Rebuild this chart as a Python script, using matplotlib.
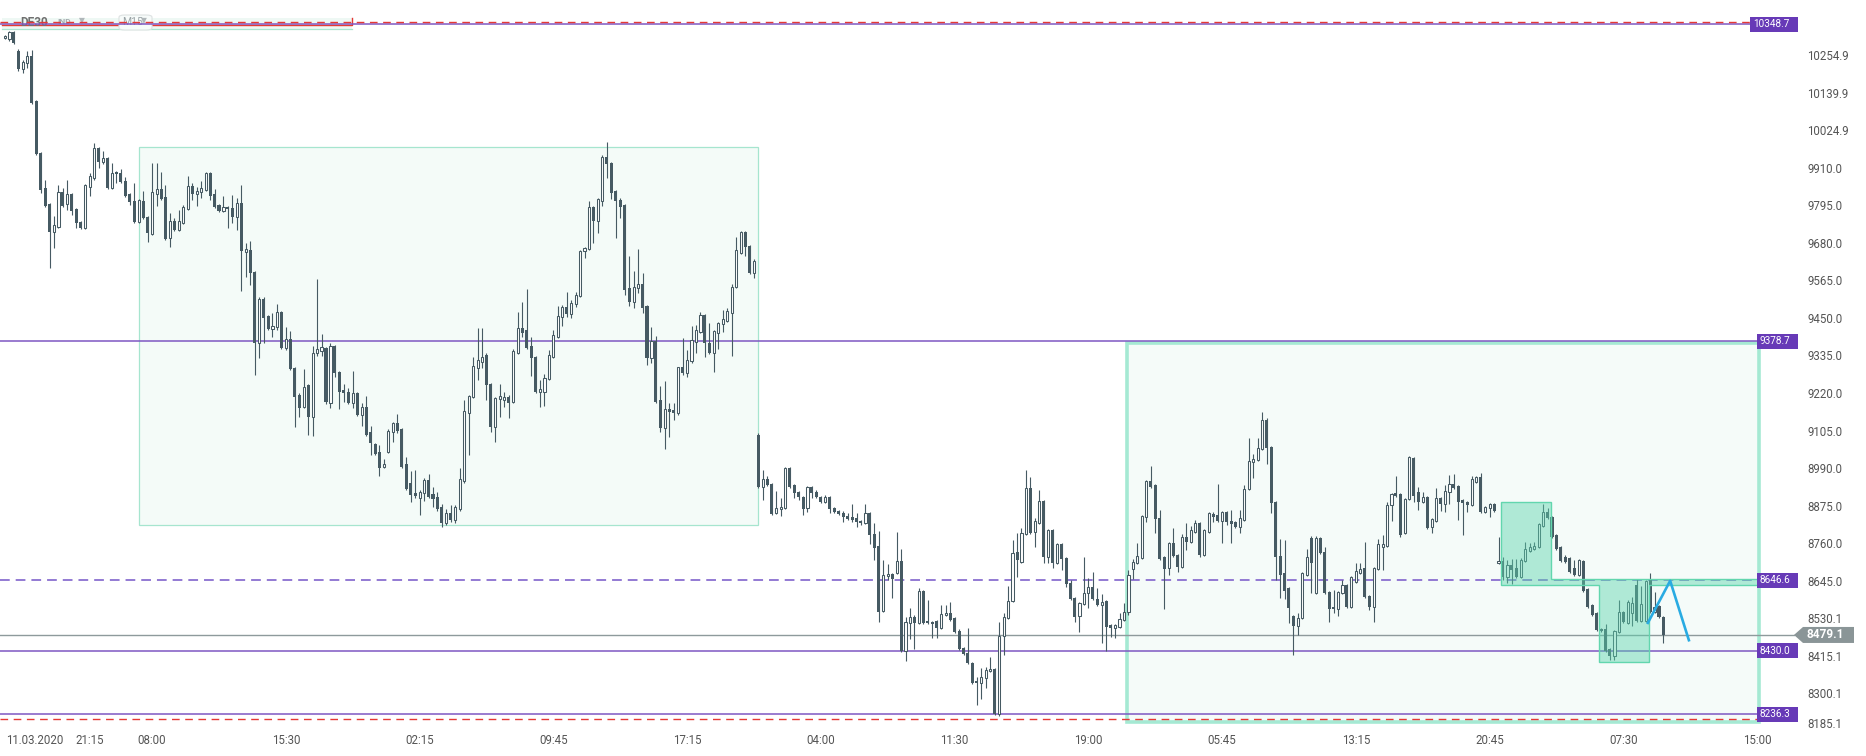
import matplotlib
matplotlib.use('Agg')
import matplotlib.pyplot as plt
import matplotlib.transforms as mtransforms
from matplotlib.patches import Rectangle, Polygon, FancyBboxPatch
import numpy as np

plt.rcParams['font.family'] = ['Roboto', 'DejaVu Sans']
plt.rcParams['lines.scale_dashes'] = False

# DE30 M15 candles
opens = [
    10307, 10304, 10325, 10267, 10212, 10230, 10252, 10114, 9955, 9848,
    9799, 9713, 9728, 9835, 9799, 9829, 9783, 9744, 9725, 9851,
    9878, 9970, 9927, 9940, 9848, 9897, 9894, 9869, 9829, 9808,
    9744, 9808, 9759, 9707, 9829, 9845, 9820, 9695, 9747, 9719,
    9741, 9783, 9854, 9829, 9835, 9841, 9894, 9829, 9796, 9777,
    9790, 9786, 9759, 9802, 9652, 9658, 9590, 9373, 9508, 9456,
    9416, 9422, 9468, 9358, 9385, 9296, 9214, 9177, 9244, 9146,
    9342, 9349, 9358, 9189, 9364, 9284, 9229, 9223, 9189, 9220,
    9153, 9177, 9100, 9064, 9039, 8993, 9039, 9100, 9128, 9110,
    9002, 8944, 8914, 8898, 8914, 8954, 8911, 8901, 8871, 8822,
    8852, 8831, 8865, 8950, 9159, 9208, 9296, 9315, 9336, 9247,
    9116, 9202, 9198, 9208, 9192, 9342, 9419, 9413, 9364, 9330,
    9223, 9223, 9263, 9330, 9391, 9453, 9483, 9462, 9493, 9517,
    9655, 9661, 9790, 9747, 9808, 9943, 9924, 9838, 9811, 9796,
    9541, 9499, 9541, 9554, 9486, 9327, 9379, 9198, 9113, 9171,
    9168, 9159, 9299, 9281, 9318, 9376, 9407, 9459, 9373, 9342,
    9404, 9431, 9440, 9465, 9545, 9649, 9713, 9670, 9587, 9091,
    8932, 8957, 8941, 8852, 8865, 8868, 8990, 8938, 8917, 8901,
    8868, 8932, 8917, 8901, 8886, 8901, 8868, 8859, 8852, 8843,
    8840, 8837, 8828, 8822, 8852, 8788, 8751, 8552, 8660, 8666,
    8669, 8706, 8430, 8516, 8534, 8516, 8614, 8522, 8519, 8522,
    8500, 8540, 8546, 8531, 8491, 8439, 8424, 8393, 8338, 8332,
    8347, 8369, 8375, 8237, 8476, 8531, 8583, 8733, 8702, 8788,
    8929, 8794, 8822, 8889, 8718, 8800, 8699, 8758, 8715, 8638,
    8592, 8537, 8574, 8608, 8626, 8589, 8571, 8583, 8509, 8500,
    8503, 8525, 8549, 8681, 8699, 8715, 8840, 8950, 8938, 8837,
    8718, 8684, 8761, 8724, 8687, 8779, 8764, 8794, 8822, 8724,
    8794, 8849, 8846, 8828, 8856, 8828, 8825, 8810, 8831, 8926,
    9009, 9015, 9048, 9137, 9055, 8886, 8721, 8669, 8623, 8537,
    8506, 8531, 8663, 8776, 8608, 8776, 8733, 8611, 8565, 8559,
    8608, 8632, 8565, 8641, 8669, 8684, 8598, 8565, 8681, 8748,
    8751, 8877, 8914, 8911, 8791, 8895, 9021, 8917, 8886, 8901,
    8810, 8828, 8898, 8880, 8917, 8941, 8935, 8892, 8886, 8877,
    8947, 8963, 8856, 8868, 8880, 8699, 8706, 8657, 8693, 8684,
    8657, 8706, 8736, 8742, 8748, 8813, 8856, 8840, 8785, 8748,
    8718, 8715, 8684, 8663, 8706, 8620, 8571, 8546, 8497, 8497,
    8436, 8415, 8488, 8549, 8516, 8546, 8632, 8522, 8522, 8647,
    8549, 8568, 8534]
highs = [
    10316, 10328, 10328, 10273, 10240, 10267, 10270, 10117, 9958, 9872,
    9802, 9762, 9857, 9848, 9872, 9832, 9786, 9747, 9860, 9894,
    9985, 9973, 9961, 9943, 9924, 9900, 9906, 9881, 9832, 9863,
    9814, 9838, 9762, 9924, 9924, 9897, 9857, 9771, 9756, 9780,
    9796, 9884, 9863, 9851, 9869, 9897, 9897, 9845, 9799, 9823,
    9793, 9826, 9817, 9857, 9679, 9685, 9593, 9514, 9514, 9459,
    9465, 9493, 9471, 9422, 9410, 9299, 9220, 9293, 9247, 9364,
    9569, 9401, 9361, 9373, 9367, 9287, 9247, 9235, 9287, 9223,
    9189, 9211, 9119, 9067, 9061, 9018, 9110, 9131, 9156, 9113,
    9024, 8981, 8984, 8923, 8960, 8972, 8932, 8917, 8880, 8865,
    8877, 8877, 8990, 9198, 9214, 9330, 9419, 9419, 9342, 9251,
    9208, 9247, 9223, 9214, 9355, 9468, 9499, 9538, 9391, 9333,
    9260, 9278, 9352, 9413, 9486, 9489, 9529, 9505, 9529, 9658,
    9667, 9808, 9793, 9817, 9949, 9988, 9927, 9841, 9817, 9799,
    9639, 9593, 9661, 9587, 9489, 9422, 9395, 9241, 9257, 9189,
    9189, 9299, 9388, 9352, 9425, 9428, 9468, 9462, 9434, 9413,
    9437, 9474, 9480, 9554, 9698, 9716, 9716, 9673, 9630, 9097,
    8984, 8966, 8944, 8920, 8898, 8993, 8993, 8941, 8920, 8905,
    8935, 8935, 8923, 8905, 8908, 8905, 8871, 8862, 8859, 8852,
    8880, 8852, 8831, 8880, 8856, 8822, 8797, 8709, 8696, 8669,
    8794, 8742, 8534, 8562, 8540, 8623, 8617, 8586, 8522, 8525,
    8571, 8571, 8580, 8534, 8497, 8442, 8500, 8396, 8350, 8378,
    8381, 8412, 8378, 8519, 8546, 8629, 8770, 8791, 8807, 8984,
    8963, 8837, 8923, 8892, 8803, 8803, 8761, 8761, 8718, 8647,
    8595, 8580, 8718, 8653, 8672, 8623, 8604, 8586, 8513, 8513,
    8546, 8577, 8678, 8712, 8761, 8846, 8954, 8996, 8941, 8862,
    8721, 8764, 8807, 8727, 8788, 8822, 8813, 8831, 8825, 8803,
    8856, 8856, 8941, 8859, 8859, 8862, 8828, 8862, 8938, 9082,
    9033, 9082, 9162, 9143, 9058, 8889, 8773, 8770, 8626, 8540,
    8546, 8672, 8742, 8782, 8782, 8779, 8748, 8614, 8617, 8614,
    8647, 8635, 8660, 8699, 8699, 8764, 8601, 8687, 8773, 8785,
    8886, 8914, 8966, 8914, 8898, 9027, 9024, 8932, 8917, 8905,
    8837, 8929, 8901, 8938, 8969, 8972, 8938, 8895, 8889, 8966,
    8966, 8975, 8874, 8883, 8883, 8779, 8718, 8709, 8712, 8712,
    8715, 8764, 8761, 8764, 8822, 8880, 8868, 8843, 8788, 8751,
    8724, 8718, 8709, 8712, 8709, 8623, 8574, 8549, 8500, 8513,
    8439, 8494, 8586, 8552, 8586, 8595, 8650, 8629, 8647, 8669,
    8611, 8571, 8537]
lows = [
    10304, 10298, 10289, 10206, 10200, 10215, 10105, 9949, 9832, 9790,
    9603, 9664, 9725, 9790, 9780, 9765, 9725, 9722, 9722, 9823,
    9872, 9909, 9921, 9845, 9845, 9863, 9863, 9820, 9796, 9741,
    9741, 9753, 9682, 9704, 9793, 9811, 9688, 9667, 9716, 9716,
    9737, 9780, 9811, 9793, 9817, 9838, 9811, 9786, 9774, 9774,
    9725, 9741, 9719, 9532, 9575, 9551, 9275, 9327, 9373, 9413,
    9391, 9413, 9355, 9352, 9290, 9116, 9146, 9174, 9091, 9088,
    9333, 9333, 9186, 9174, 9269, 9171, 9192, 9186, 9174, 9149,
    9119, 9088, 9030, 9030, 8966, 8990, 9036, 9070, 9097, 8990,
    8923, 8886, 8898, 8846, 8889, 8898, 8871, 8859, 8810, 8816,
    8825, 8822, 8859, 8944, 9030, 9205, 9260, 9296, 9198, 9100,
    9070, 9146, 9177, 9143, 9189, 9339, 9391, 9355, 9272, 9220,
    9177, 9180, 9260, 9327, 9388, 9425, 9453, 9450, 9483, 9514,
    9633, 9658, 9679, 9710, 9793, 9878, 9814, 9695, 9756, 9520,
    9486, 9480, 9526, 9465, 9306, 9312, 9189, 9100, 9049, 9085,
    9137, 9153, 9275, 9269, 9312, 9342, 9404, 9330, 9339, 9284,
    9355, 9407, 9437, 9333, 9541, 9646, 9639, 9584, 9572, 8929,
    8892, 8935, 8846, 8849, 8843, 8865, 8929, 8898, 8892, 8846,
    8856, 8898, 8898, 8883, 8883, 8852, 8852, 8846, 8825, 8831,
    8825, 8810, 8816, 8819, 8758, 8709, 8519, 8549, 8647, 8592,
    8666, 8427, 8399, 8467, 8436, 8513, 8513, 8513, 8470, 8470,
    8497, 8537, 8522, 8485, 8433, 8418, 8390, 8329, 8265, 8283,
    8317, 8366, 8234, 8231, 8418, 8528, 8580, 8657, 8699, 8785,
    8788, 8748, 8819, 8699, 8699, 8684, 8696, 8678, 8626, 8586,
    8519, 8488, 8571, 8562, 8586, 8568, 8454, 8430, 8473, 8470,
    8500, 8522, 8540, 8650, 8696, 8712, 8825, 8929, 8791, 8709,
    8559, 8663, 8718, 8672, 8684, 8739, 8761, 8791, 8718, 8721,
    8791, 8825, 8825, 8761, 8816, 8761, 8807, 8791, 8828, 8923,
    8960, 9012, 9045, 9002, 8852, 8647, 8592, 8589, 8516, 8418,
    8479, 8528, 8660, 8608, 8604, 8727, 8604, 8519, 8546, 8537,
    8604, 8562, 8562, 8638, 8666, 8592, 8556, 8519, 8678, 8678,
    8748, 8828, 8901, 8779, 8788, 8892, 8886, 8862, 8883, 8803,
    8791, 8825, 8859, 8856, 8880, 8926, 8831, 8785, 8856, 8874,
    8944, 8852, 8852, 8840, 8856, 8696, 8647, 8638, 8635, 8653,
    8653, 8702, 8733, 8739, 8745, 8810, 8834, 8776, 8739, 8702,
    8699, 8669, 8660, 8660, 8611, 8562, 8537, 8491, 8488, 8427,
    8402, 8402, 8485, 8516, 8513, 8506, 8519, 8519, 8519, 8546,
    8546, 8531, 8454]
closes = [
    10313, 10325, 10292, 10212, 10234, 10252, 10108, 9952, 9841, 9793,
    9713, 9734, 9835, 9793, 9829, 9777, 9741, 9725, 9857, 9884,
    9970, 9927, 9940, 9848, 9894, 9891, 9866, 9823, 9805, 9744,
    9811, 9756, 9710, 9835, 9845, 9814, 9692, 9747, 9719, 9747,
    9790, 9854, 9829, 9838, 9848, 9894, 9823, 9790, 9777, 9790,
    9783, 9759, 9802, 9655, 9661, 9587, 9373, 9508, 9450, 9416,
    9425, 9468, 9358, 9385, 9293, 9208, 9174, 9238, 9146, 9342,
    9355, 9361, 9192, 9364, 9281, 9223, 9220, 9189, 9220, 9153,
    9177, 9091, 9067, 9033, 8990, 9002, 9104, 9128, 9104, 8993,
    8926, 8908, 8905, 8917, 8954, 8901, 8895, 8865, 8822, 8852,
    8831, 8871, 8957, 9165, 9211, 9302, 9321, 9330, 9244, 9116,
    9205, 9211, 9208, 9189, 9349, 9419, 9404, 9358, 9327, 9223,
    9232, 9266, 9336, 9398, 9456, 9483, 9462, 9496, 9520, 9655,
    9664, 9790, 9747, 9814, 9943, 9921, 9832, 9808, 9790, 9535,
    9499, 9545, 9554, 9480, 9327, 9379, 9192, 9113, 9171, 9162,
    9159, 9299, 9281, 9321, 9382, 9413, 9459, 9373, 9342, 9410,
    9434, 9446, 9471, 9545, 9658, 9713, 9667, 9587, 9624, 8932,
    8957, 8938, 8849, 8868, 8871, 8990, 8932, 8914, 8901, 8865,
    8932, 8914, 8901, 8886, 8901, 8865, 8856, 8849, 8840, 8834,
    8831, 8825, 8822, 8852, 8785, 8745, 8549, 8663, 8666, 8650,
    8706, 8430, 8519, 8534, 8516, 8614, 8516, 8516, 8513, 8500,
    8543, 8546, 8525, 8488, 8436, 8421, 8393, 8332, 8332, 8350,
    8372, 8375, 8237, 8476, 8534, 8583, 8730, 8709, 8791, 8929,
    8791, 8828, 8889, 8718, 8800, 8699, 8758, 8712, 8635, 8589,
    8534, 8577, 8608, 8626, 8589, 8571, 8580, 8503, 8500, 8509,
    8528, 8549, 8663, 8702, 8721, 8843, 8950, 8932, 8834, 8712,
    8681, 8761, 8721, 8687, 8779, 8764, 8800, 8822, 8724, 8800,
    8852, 8840, 8828, 8856, 8825, 8819, 8810, 8837, 8926, 9012,
    9018, 9052, 9137, 9052, 8883, 8718, 8663, 8614, 8562, 8506,
    8531, 8669, 8718, 8699, 8776, 8730, 8608, 8559, 8559, 8611,
    8632, 8565, 8657, 8675, 8681, 8595, 8565, 8684, 8758, 8758,
    8877, 8911, 8905, 8785, 8895, 9024, 8905, 8886, 8901, 8807,
    8834, 8898, 8880, 8920, 8941, 8929, 8886, 8883, 8877, 8957,
    8963, 8856, 8871, 8880, 8859, 8706, 8657, 8693, 8678, 8657,
    8709, 8742, 8748, 8751, 8819, 8856, 8837, 8779, 8742, 8706,
    8702, 8672, 8663, 8709, 8614, 8565, 8540, 8494, 8491, 8430,
    8415, 8491, 8549, 8519, 8580, 8577, 8522, 8574, 8644, 8549,
    8565, 8534, 8479.1]

tick_pos = [6.7, 19, 33, 63, 93, 123, 153, 183, 213, 243, 273, 303, 333, 363, 393]
tick_lbl = ['11.03.2020', '21:15', '08:00', '15:30', '02:15', '09:45', '17:15', '04:00',
            '11:30', '19:00', '05:45', '13:15', '20:45', '07:30', '15:00']
price_ticks = [10254.9, 10139.9, 10024.9, 9910.0, 9795.0, 9680.0, 9565.0, 9450.0, 9335.0,
               9220.0, 9105.0, 8990.0, 8875.0, 8760.0, 8645.0, 8530.1, 8415.1, 8300.1, 8185.1]

solid_levels = [10348.7, 9378.7, 8430.0, 8236.3]
dashed_level = 8646.6
red_levels = [10354.7, 8221.7]
last_price = 8479.1

# boxes drawn on the chart: x from, x to (candle index), price low, price high
range_box = [30.1, 169.0, 8816, 9972]
big_box = [251.6, 393.5, 8214, 9372]
zone1 = [335.6, 346.8, 8632, 8886]
zone2 = [357.6, 368.8, 8397, 8650]
band_right = 393.5

arrow_x = [368.5, 373.5, 377.7]
arrow_y = [8516, 8645, 8463]

W, H = 1866, 756
fig = plt.figure(figsize=(W / 100, H / 100), dpi=100)
fig.patch.set_facecolor('white')
ax = fig.add_axes([0, 23 / H, 1762 / W, 733 / H])
ax.patch.set_alpha(0)
ax.set_xlim(-1.12, 394.1)
ax.set_ylim(8178.9, 10423.3)
for s in ax.spines.values():
    s.set_visible(False)

cc = '#465a63'
o = np.array(opens, float)
h = np.array(highs, float)
l = np.array(lows, float)
c = np.array(closes, float)
x = np.arange(len(c))
up = c > o
bot = np.minimum(o, c)
hgt = np.maximum(np.abs(c - o), 3.0)

# rectangles behind the candles
ax.add_patch(Rectangle((range_box[0], range_box[2]), range_box[1] - range_box[0], range_box[3] - range_box[2],
                       facecolor='#f4fbf8', edgecolor='#a6e5cf', lw=0.9, zorder=1))
ax.add_patch(Rectangle((big_box[0], big_box[2]), big_box[1] - big_box[0], big_box[3] - big_box[2],
                       facecolor='#f5fbf9', edgecolor='#a5e9d3', lw=2.6, zorder=1))

# levels
for lv in solid_levels:
    ax.axhline(lv, 0, 1757 / 1762, color='#7e57c2', lw=1.1, zorder=2)
ax.axhline(dashed_level, 0, 1757 / 1762, color='#8a6fd0', lw=1.3, dashes=(7, 4.3), zorder=2)
for lv in red_levels:
    ax.axhline(lv, 0, 1, color='#e53935', lw=1.0, dashes=(5.5, 4), zorder=2)
ax.axhline(last_price, 0, 1794 / 1762, color='#8e9a9c', lw=1.0, zorder=2, clip_on=False)

# candles
ax.vlines(x, l, h, color=cc, lw=0.8, zorder=3)
ax.bar(x[~up], hgt[~up], bottom=bot[~up], width=0.68, color=cc, lw=0, zorder=4)
ax.bar(x[up], hgt[up], bottom=bot[up], width=0.48, facecolor='white', edgecolor=cc, lw=0.75, zorder=4)

# green zones over the candles (one outline for both boxes and the band)
zx = [zone1[0], zone1[1], zone1[1], zone2[0], zone2[0], zone2[1], zone2[1], band_right, band_right,
      zone2[1], zone2[1], zone2[0], zone2[0], zone1[0]]
zy = [zone1[3], zone1[3], zone2[3], zone2[3], zone2[3], zone2[3], zone2[3], zone2[3], zone1[2],
      zone1[2], zone2[2], zone2[2], zone1[2], zone1[2]]
ax.add_patch(Polygon(np.column_stack([zx, zy]), closed=True, facecolor=(0.353, 0.835, 0.678, 0.45),
                     edgecolor='#62d6ae', lw=1.0, zorder=5))

ax.plot(arrow_x, arrow_y, color='#29abe2', lw=1.9, zorder=6)

# axis labels
ax.yaxis.tick_right()
ax.set_yticks(price_ticks)
ax.set_yticklabels(['%.1f' % v for v in price_ticks])
ax.tick_params(axis='y', length=0, pad=32.4, labelsize=8.3, labelcolor='#555555')
ax.get_yticklabels()[-1].set_va('bottom')
ax.set_xticks(tick_pos)
ax.set_xticklabels(tick_lbl)
ax.tick_params(axis='x', length=0, pad=1, labelsize=8.3, labelcolor='#555555')

# level tags at the price scale
blend = mtransforms.blended_transform_factory(fig.transFigure, ax.transData)
tags = [(10348.7, '10348.7', 1750), (9378.7, '9378.7', 1757), (8646.6, '8646.6', 1757),
        (8430.0, '8430.0', 1757), (8236.3, '8236.3', 1757)]
for v, t, x0 in tags:
    ax.add_patch(Rectangle((x0 / W, v - 7.5 * 3.062), (1798 - x0) / W, 15 * 3.062, transform=blend,
                           facecolor='#673ab7', lw=0, clip_on=False, zorder=10))
    ax.text((x0 + 3) / W, v, t, transform=blend, color='white', fontsize=7.2, va='center', ha='left',
            clip_on=False, zorder=11)

d = 8 * 3.062
ax.add_patch(Polygon([(1794 / W, last_price), (1803 / W, last_price + d), (1854 / W, last_price + d),
                      (1854 / W, last_price - d), (1803 / W, last_price - d)], closed=True, transform=blend,
                     facecolor='#8a9597', lw=0, clip_on=False, zorder=10))
ax.text(1825 / W, last_price, '%.1f' % last_price, transform=blend, color='white', fontsize=8.5,
        fontweight='bold', ha='center', va='center', clip_on=False, zorder=11)

# instrument bar at the top left
def fy(py):
    return 1 - py / H

fig.add_artist(Rectangle((2 / W, fy(29)), 350 / W, 11 / H, transform=fig.transFigure,
                         facecolor='#eef8f4', lw=0, zorder=-2))
fig.add_artist(plt.Line2D([2 / W, 352 / W], [fy(29), fy(29)], transform=fig.transFigure,
                          color='#a8e6cf', lw=0.9, zorder=-1))
fig.add_artist(plt.Line2D([2 / W, 352 / W, 352 / W], [fy(25), fy(25), fy(18)], transform=fig.transFigure,
                          color='#e53935', lw=1.0, zorder=-1))
fig.add_artist(FancyBboxPatch((119 / W, fy(30)), 33 / W, 15 / H, boxstyle='round,pad=0,rounding_size=0.003',
                              transform=fig.transFigure, facecolor='#f7fbfa', edgecolor='#dde2e2',
                              lw=0.8, zorder=-1))
fig.text(20 / W, fy(22), 'DE30', color='#707070', fontsize=8.5, fontweight='bold', va='center', zorder=-1)
fig.text(57 / W, fy(22), 'IND', color='#a3abae', fontsize=6, fontweight='bold', va='center', zorder=-1)
fig.text(79 / W, fy(21), '\u25bc', color='#b0b7ba', fontsize=5.5, va='center', zorder=-1,
         family=['DejaVu Sans'])
fig.text(122 / W, fy(22), 'M15', color='#9aa3a6', fontsize=7.5, va='center', zorder=-1)
fig.text(141 / W, fy(21), '\u25bc', color='#b0b7ba', fontsize=5.5, va='center', zorder=-1,
         family=['DejaVu Sans'])

fig.savefig('out.png', dpi=100)
